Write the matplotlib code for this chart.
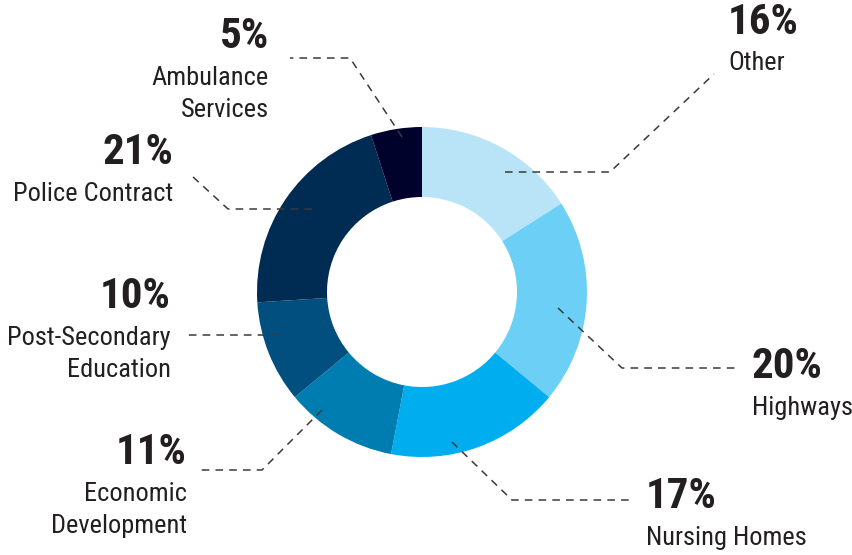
import matplotlib.pyplot as plt
from matplotlib import font_manager

categories = ['Other', 'Highways', 'Nursing Homes', 'Economic\nDevelopment',
              'Post-Secondary\nEducation', 'Police Contract', 'Ambulance\nServices']
shares = [16, 20, 17, 11, 10, 21, 5]
colors = ['#b9e4f8', '#6ccff6', '#00aeef', '#007db0', '#004f7f', '#002c54', '#00022c']

# look for a condensed face, the reference uses a narrow grotesque
fonts = font_manager.fontManager.ttflist
names = {f.name for f in fonts}
stretch = 'normal'
family = 'Liberation Sans'
for cand in ['Roboto Condensed', 'Liberation Sans Narrow', 'Open Sans Condensed',
             'Noto Sans Condensed']:
    if cand in names:
        family = cand
        break
else:
    if any(f.name == 'DejaVu Sans' and 'ondensed' in str(f.stretch) for f in fonts):
        family, stretch = 'DejaVu Sans', 'condensed'
plt.rcParams['font.family'] = [family, 'DejaVu Sans']
plt.rcParams['font.stretch'] = stretch

W, H = 853, 555
fig = plt.figure(figsize=(W / 100, H / 100), dpi=100)
ax = fig.add_axes([0, 0, 1, 1])

cx, cy = 422, H - 292
ax.pie(shares, colors=colors, startangle=90, counterclock=False, center=(cx, cy),
       radius=165, wedgeprops=dict(width=70, edgecolor='none'), frame=True)
ax.set_xlim(0, W)
ax.set_ylim(0, H)
ax.set_aspect('equal')
ax.axis('off')

# leader paths (picture pixels) and label anchors
leaders = [
    [(505, 172), (610, 172), (714, 74)],
    [(558, 308), (622, 368), (740, 368)],
    [(452, 442), (512, 500), (632, 500)],
    [(322, 410), (262, 470), (196, 470)],
    [(279, 335), (186, 335)],
    [(312, 209), (228, 209), (192, 176)],
    [(402, 137), (350, 58), (290, 58)],
]
label_pos = [
    (728, 'left', 22), (752, 'left', 367), (646, 'left', 497),
    (187, 'right', 453), (171, 'right', 297), (173, 'right', 153), (269, 'right', 37),
]

for path, share, name, (lx, ha, ly) in zip(leaders, shares, categories, label_pos):
    xs = [p[0] for p in path]
    ys = [H - p[1] for p in path]
    ax.plot(xs, ys, color='#3a3a3a', lw=1.1, dashes=(5, 4))
    ax.text(lx, H - ly, f'{share}%', ha=ha, va='center', fontsize=31,
            fontweight='bold', color='#231f20')
    ax.text(lx, H - ly - 29, name, ha=ha, va='top', fontsize=19,
            color='#231f20', linespacing=1.42)

fig.savefig('out.png', dpi=100)
